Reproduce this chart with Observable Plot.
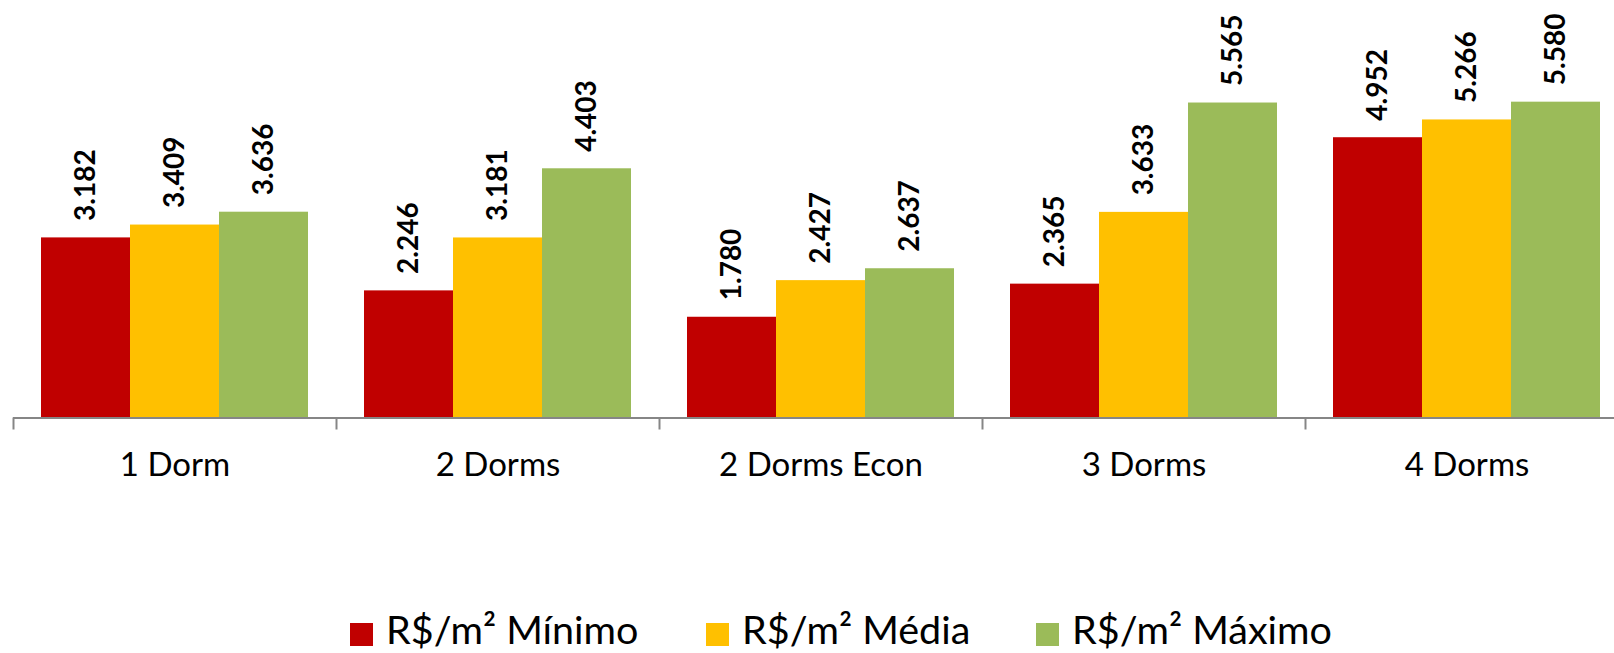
<!DOCTYPE html>
<html>
<head>
<meta charset="utf-8">
<script src="https://cdn.jsdelivr.net/npm/d3@7"></script>
<script src="https://cdn.jsdelivr.net/npm/@observablehq/plot@0.6"></script>
<style>
  html, body { margin: 0; padding: 0; background: #fff; overflow: hidden; }
  body { width: 1614px; height: 653px; font-family: Lato, "Open Sans", sans-serif; }
  #legend { height: 63px; display: flex; align-items: center; padding-left: 350px; padding-top: 15px; box-sizing: border-box; }
  .item { display: flex; align-items: center; font-size: 39.5px; line-height: 1; color: #000; white-space: nowrap; }
  .sw { width: 23px; height: 23px; margin-right: 13px; flex: none; position: relative; top: 5px; }
</style>
</head>
<body>
<div id="chart"></div>
<div id="legend"></div>
<script>
const categories = ["1 Dorm", "2 Dorms", "2 Dorms Econ", "3 Dorms", "4 Dorms"];
const series = ["R$/m² Mínimo", "R$/m² Média", "R$/m² Máximo"];
const colors = ["#C00000", "#FFC000", "#9BBB59"];
const minimo = [3182, 2246, 1780, 2365, 4952];
const media  = [3409, 3181, 2427, 3633, 5266];
const maximo = [3636, 4403, 2637, 5565, 5580];

const values = [minimo, media, maximo];
const data = [];
categories.forEach((c, i) => {
  series.forEach((s, j) => data.push({cat: c, serie: s, value: values[j][i]}));
});

const ptBR = d3.formatLocale({decimal: ",", thousands: ".", grouping: [3], currency: ["R$", ""]});
const fmt = ptBR.format(",d");

const H = 590, base = 417.5, pxPerUnit = 0.0566;
const chart = Plot.plot({
  width: 1614,
  height: H,
  marginLeft: 13,
  marginRight: 0,
  marginTop: 0,
  marginBottom: H - base,
  style: {fontFamily: "Lato, 'Open Sans', sans-serif", background: "#fff", overflow: "visible"},
  fx: {domain: categories, range: [13, 1628], padding: 0, label: null},
  x: {domain: series, paddingInner: 0, paddingOuter: 0.308, axis: null},
  y: {domain: [0, base / pxPerUnit], axis: null},
  color: {domain: series, range: colors},
  marks: [
    Plot.barY(data, {fx: "cat", x: "serie", y: "value", fill: "serie", insetLeft: 0, insetRight: 0}),
    Plot.text(data, {fx: "cat", x: "serie", y: "value", text: d => fmt(d.value), rotate: -90,
      textAnchor: "start", dy: -17, fontSize: 28, fontWeight: "bold", fill: "#000"}),
    Plot.ruleY([0], {stroke: "#868686", strokeWidth: 2}),
    Plot.axisFx({anchor: "bottom", tickSize: 12, fill: "none", stroke: "#868686", strokeWidth: 2, dx: -161.5, label: null}),
    Plot.axisFx({anchor: "bottom", tickSize: 0, tickPadding: 35, fontSize: 33, fill: "#000", label: null})
  ]
});
document.getElementById("chart").appendChild(chart);

const legend = document.getElementById("legend");
const widths = [356, 330, 300];
series.forEach((s, i) => {
  const item = document.createElement("div");
  item.className = "item";
  item.style.width = widths[i] + "px";
  const sw = document.createElement("div");
  sw.className = "sw";
  sw.style.background = colors[i];
  const t = document.createElement("span");
  t.textContent = s;
  item.appendChild(sw);
  item.appendChild(t);
  legend.appendChild(item);
});
</script>
</body>
</html>
